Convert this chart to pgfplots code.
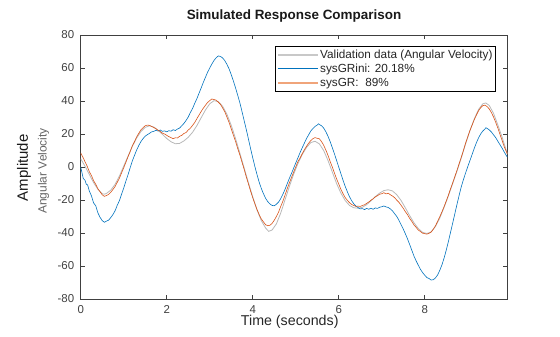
\documentclass[border=0pt]{standalone}
\usepackage{pgfplots}
\pgfplotsset{compat=1.18}
\usepackage{fontspec}
\setmainfont{Liberation Sans}
\definecolor{mblue}{HTML}{0072BD}
\definecolor{morange}{HTML}{D95319}
\definecolor{lorange}{HTML}{F0A47A}
\definecolor{vgray}{HTML}{B8B8B8}
\definecolor{lgray}{HTML}{C8C8C8}
\definecolor{axgray}{HTML}{404040}
\begin{document}
\begin{tikzpicture}
\useasboundingbox (0,0) rectangle (560bp,337bp);
\begin{axis}[
  at={(80.7bp,38bp)}, anchor=south west,
  scale only axis, width=426.6bp, height=264bp,
  xmin=0, xmax=9.92, ymin=-80, ymax=80,
  xtick={0,2,4,6,8}, xticklabels={0,2,4,6,8},
  ytick={-80,-60,-40,-20,0,20,40,60,80},
  yticklabels={-80,-60,-40,-20,0,20,40,60,80},
  tick align=inside, major tick length=4.5bp,
  axis line style={axgray, line width=0.5pt},
  every tick/.style={axgray, line width=0.5pt},
  tick label style={font=\fontsize{11.5}{13}\selectfont, text=axgray},
  xticklabel style={yshift=-3bp},
  yticklabel style={xshift=-3bp},
  /pgf/number format/assume math mode=true,
  title={\bfseries Simulated Response Comparison},
  title style={font=\fontsize{13.5}{15}\selectfont, text=black!90, at={(0.5,1)}, anchor=south, yshift=3bp},
  xlabel={Time (seconds)},
  xlabel style={font=\fontsize{14.3}{16}\selectfont, text=black!85, at={(axis description cs:0.49,0)}, anchor=center, yshift=-23bp},
  legend style={at={(0.9735,0.958)}, anchor=north east, draw=black, line width=0.6pt, fill=white,
    font=\fontsize{11.8}{13}\selectfont, text=black!85, inner xsep=2bp, inner ysep=1.5bp,
    nodes={text height=9bp, text depth=2.6bp, inner sep=1.2bp}},
  legend cell align=left,
  legend image code/.code={\draw[#1] (0bp,0bp) -- (40bp,0bp);},
  clip mode=individual,
]
\node[rotate=90, font=\fontsize{15}{17}\selectfont, text=black!90] at (axis description cs:-0.133,0.497) {Amplitude};
\node[rotate=90, font=\fontsize{12}{14}\selectfont, text=black!60] at (axis description cs:-0.087,0.485) {Angular Velocity};

\addplot[vgray, line width=0.8pt, legend image post style={lgray, line width=2pt}] table {
0 5
0.1 0.5
0.2 -4.5
0.3 -9.5
0.4 -13.5
0.5 -16.2
0.55 -16.5
0.6 -16
0.7 -14
0.8 -10.5
0.9 -5.5
1.0 0.5
1.1 6.5
1.2 12.5
1.3 17.5
1.4 21.5
1.5 24
1.6 25
1.7 24.2
1.8 22.3
1.9 19.8
2.0 17.3
2.1 15.3
2.2 14.1
2.3 14.3
2.4 15.8
2.5 18
2.6 21
2.7 25
2.8 29.8
2.9 34.5
3.0 38.3
3.1 40.2
3.2 39.6
3.3 36.8
3.4 32
3.5 25.3
3.6 17.3
3.7 8.5
3.8 -0.5
3.9 -9.5
4.0 -18
4.1 -26
4.2 -32.5
4.3 -37
4.37 -39
4.45 -38.2
4.55 -34.5
4.65 -28
4.75 -20
4.85 -12
4.95 -4.5
5.05 2
5.15 7.5
5.25 11.8
5.35 14.8
5.45 15.6
5.55 14
5.65 10
5.75 4
5.85 -3
5.95 -10
6.05 -15.8
6.15 -20.3
6.25 -23.3
6.35 -24.7
6.45 -25
6.55 -24.4
6.65 -22.8
6.75 -20.5
6.85 -18
6.95 -15.8
7.05 -14.3
7.15 -13.8
7.25 -14.5
7.35 -16.8
7.45 -20.3
7.55 -24.8
7.65 -29.5
7.75 -33.8
7.85 -37.3
7.95 -39.6
8.05 -40.3
8.15 -39.3
8.25 -36
8.35 -31
8.45 -24.5
8.55 -17.5
8.65 -10
8.75 -2.5
8.85 5.5
8.95 14
9.05 22
9.15 29
9.25 34.8
9.35 38.3
9.42 38.8
9.5 37.3
9.6 32.5
9.7 25.5
9.8 18
9.92 8
};
\addlegendentry{Validation data (Angular Velocity)}

\addplot[mblue, line width=0.6pt, legend image post style={line width=0.9pt}] table {
0 0
0.03 -3.5
0.06 -7
0.1 -8
0.13 -10.5
0.16 -10.8
0.2 -14.5
0.25 -17.5
0.3 -21.8
0.35 -23.5
0.4 -27.8
0.45 -30.5
0.5 -32.5
0.55 -33.5
0.6 -32.8
0.65 -32.2
0.7 -30.6
0.75 -28.8
0.8 -26.5
0.85 -23.2
0.9 -20.4
0.95 -16.5
1.0 -12.8
1.05 -8.6
1.1 -4.7
1.15 -0.5
1.2 3.6
1.25 7
1.3 10.2
1.35 13
1.4 15.4
1.45 17.2
1.5 18.7
1.55 19.6
1.6 20.4
1.65 21.3
1.7 21.6
1.75 22.3
1.8 21.8
1.85 22.4
1.9 21.6
1.95 21.9
2.0 21.3
2.05 22
2.1 21.7
2.15 22.6
2.2 22.1
2.25 23
2.3 23.6
2.35 25
2.4 26.4
2.45 28.2
2.5 30.3
2.55 33
2.6 35.4
2.65 38.5
2.7 41.3
2.75 44.6
2.8 47.8
2.85 51.2
2.9 54.3
2.95 57.4
3.0 60
3.05 62.4
3.1 64.6
3.15 66.2
3.2 67.3
3.25 67
3.3 66.1
3.35 64.5
3.4 62.2
3.45 59.5
3.5 56
3.55 52.2
3.6 48
3.65 43.6
3.7 39
3.75 33.7
3.8 28.2
3.85 22.8
3.9 17
3.95 11.2
4.0 5.6
4.05 0.3
4.1 -4.6
4.15 -9.2
4.2 -13
4.25 -16.2
4.3 -19
4.35 -21
4.4 -22.4
4.45 -23.3
4.5 -23.5
4.55 -22.6
4.6 -21.3
4.65 -19.2
4.7 -16.6
4.75 -13.6
4.8 -10.3
4.85 -7
4.9 -4
4.95 -0.8
5.0 2.4
5.05 5.5
5.1 8.7
5.15 11.6
5.2 14.4
5.25 17.2
5.3 19.5
5.35 21.8
5.4 23.3
5.45 24.6
5.5 25.4
5.53 26.2
5.56 25.6
5.6 25
5.65 23.6
5.7 21.4
5.75 18.7
5.8 15.4
5.85 11.8
5.9 8
5.95 4
6.0 0
6.05 -4
6.1 -8
6.15 -11.7
6.2 -15
6.25 -18
6.3 -20.4
6.35 -22.3
6.4 -23.7
6.45 -24.6
6.5 -25.4
6.55 -25.2
6.6 -25.8
6.65 -25.1
6.7 -25.6
6.75 -25
6.8 -25.6
6.85 -24.8
6.9 -25.1
6.95 -24.4
7.0 -24.1
7.05 -23.6
7.1 -24.2
7.15 -24.5
7.2 -25.4
7.25 -26.6
7.3 -28.3
7.35 -30
7.4 -32.3
7.45 -35
7.5 -37.6
7.55 -40.5
7.6 -43.6
7.65 -47
7.7 -50.5
7.75 -54
7.8 -56.9
7.85 -59.5
7.9 -62
7.95 -64
8.0 -65.6
8.05 -67
8.1 -67.6
8.15 -68.5
8.2 -68.3
8.25 -67.2
8.3 -65.4
8.35 -62.6
8.4 -59.3
8.45 -55.2
8.5 -50.4
8.55 -45.2
8.6 -39.6
8.65 -34
8.7 -28.3
8.75 -22.6
8.8 -17.2
8.85 -12
8.9 -7.6
8.95 -3.6
9.0 0.2
9.05 3.8
9.1 7.5
9.15 11.2
9.2 14.6
9.25 17.6
9.3 20
9.35 21.8
9.4 23
9.42 23.8
9.45 23.4
9.5 22.5
9.55 21.2
9.6 19.5
9.65 17.8
9.7 15.6
9.75 13.5
9.8 11.4
9.85 9
9.92 6
};
\addlegendentry{sysGRini: 20.18\%}

\addplot[morange, line width=0.6pt, legend image post style={lorange, line width=2pt}] table {
0 8.5
0.05 6
0.1 3.2
0.15 0.5
0.2 -2.8
0.25 -5.2
0.3 -8.3
0.35 -10.5
0.4 -13.2
0.45 -15
0.5 -16.8
0.55 -17.8
0.6 -17.3
0.65 -16.6
0.7 -15.3
0.75 -13.6
0.8 -11.8
0.85 -9.3
0.9 -6.8
0.95 -3.6
1.0 -0.5
1.05 2.8
1.1 6.2
1.15 9.3
1.2 12.8
1.25 15.3
1.3 18.2
1.35 20.4
1.4 22.5
1.45 23.8
1.5 25
1.55 25.4
1.6 25.2
1.65 24.6
1.7 23.9
1.75 23.2
1.8 22.2
1.85 21.6
1.9 20.5
1.95 20
2.0 19.2
2.05 18.4
2.1 17.8
2.15 17.2
2.2 17.7
2.25 17.6
2.3 18.6
2.35 19.2
2.4 20.3
2.45 20.9
2.5 22.4
2.55 23.5
2.6 25.2
2.65 26.9
2.7 29.2
2.75 31.4
2.8 33.6
2.85 35.6
2.9 37.4
2.95 39.1
3.0 40.2
3.05 41.2
3.1 40.9
3.15 40.5
3.2 39.3
3.25 38
3.3 35.8
3.35 33.5
3.4 30.3
3.45 27
3.5 23.2
3.55 19.3
3.6 15.6
3.65 11.3
3.7 7.4
3.75 3
3.8 -1.3
3.85 -6
3.9 -10.2
3.95 -14.6
4.0 -18.6
4.05 -22.3
4.1 -25.8
4.15 -28.8
4.2 -31.5
4.25 -33.3
4.3 -35
4.35 -35.6
4.4 -35.3
4.45 -34.2
4.5 -32.3
4.55 -30
4.6 -27.4
4.65 -24
4.7 -20.8
4.75 -17.2
4.8 -13.3
4.85 -9.8
4.9 -6.5
4.95 -3.2
5.0 0
5.05 3.2
5.1 5.4
5.15 8
5.2 10.4
5.25 12.5
5.3 14.4
5.35 16
5.4 17.2
5.45 17.8
5.5 17.4
5.55 17.1
5.6 15.4
5.65 13.2
5.7 10.3
5.75 7.1
5.8 3.4
5.85 0
5.9 -3.6
5.95 -7.2
6.0 -10.3
6.05 -13.5
6.1 -16.2
6.15 -18.5
6.2 -20.2
6.25 -21.6
6.3 -22.7
6.35 -23.3
6.4 -23.9
6.45 -23.7
6.5 -23.9
6.55 -23.3
6.6 -22.9
6.65 -22
6.7 -21.2
6.75 -20.1
6.8 -19.3
6.85 -18.1
6.9 -17.4
6.95 -16.5
7.0 -16.2
7.05 -15.6
7.1 -16.3
7.15 -15.9
7.2 -16.8
7.25 -17.6
7.3 -18.6
7.35 -20.1
7.4 -21.4
7.45 -23.2
7.5 -25
7.55 -27.1
7.6 -28.9
7.65 -31.2
7.7 -33
7.75 -35.1
7.8 -36.6
7.85 -38.2
7.9 -39.1
7.95 -40.1
8.0 -40.4
8.05 -40.7
8.1 -40.2
8.15 -39.4
8.2 -37.7
8.25 -35.6
8.3 -32.9
8.35 -30.1
8.4 -27.2
8.45 -24
8.5 -20.6
8.55 -17.1
8.6 -13.2
8.65 -9.6
8.7 -5.8
8.75 -2
8.8 2
8.85 6
8.9 10.1
8.95 14.5
9.0 18.3
9.05 22
9.1 25.3
9.15 28.6
9.2 31.4
9.25 34
9.3 35.9
9.35 37.2
9.4 37.5
9.45 36.6
9.5 35.2
9.55 33
9.6 30.3
9.65 27.1
9.7 23.6
9.75 19.7
9.8 16
9.85 12.2
9.92 8
};
\addlegendentry{sysGR:\ \ 89\%}
\end{axis}
\end{tikzpicture}
\end{document}
